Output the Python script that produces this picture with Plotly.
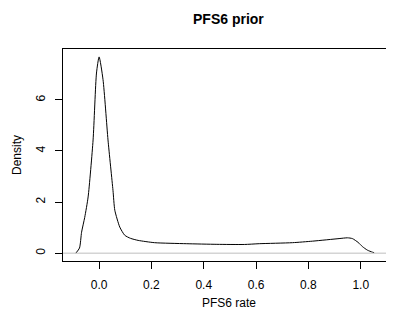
import plotly.graph_objects as go

pfs6_rate = [-0.089, -0.075, -0.067, -0.055, -0.042, -0.023, -0.010, 0.000, 0.015, 0.034,
             0.053, 0.060, 0.079, 0.098, 0.120, 0.149, 0.212, 0.333, 0.450, 0.555,
             0.612, 0.739, 0.816, 0.917, 0.949, 0.968, 0.990, 1.006, 1.025, 1.044, 1.051]
density = [0.00, 0.20, 0.82, 1.40, 2.20, 4.43, 7.05, 7.68, 6.79, 4.43,
           2.46, 1.68, 1.02, 0.70, 0.58, 0.50, 0.41, 0.37, 0.345, 0.34,
           0.37, 0.41, 0.47, 0.57, 0.60, 0.57, 0.42, 0.26, 0.12, 0.04, 0.02]
x_ticks = [0.0, 0.2, 0.4, 0.6, 0.8, 1.0]
x_tick_labels = ["0.0", "0.2", "0.4", "0.6", "0.8", "1.0"]
y_ticks = [0, 2, 4, 6]
y_tick_labels = ["0", "2", "4", "6"]

FONT = "Liberation Sans, Arial, sans-serif"

fig = go.Figure()
fig.add_trace(go.Scatter(x=pfs6_rate, y=density, mode="lines",
                         line=dict(color="black", width=1, shape="spline", smoothing=0.6),
                         hoverinfo="skip", showlegend=False))

fig.add_hline(y=0, line=dict(color="#BEBEBE", width=1))

# page body has an 8px default margin, so the figure is offset by (8, 8)
fig.update_layout(
    width=386, height=312,
    margin=dict(l=55, r=0, t=41, b=59, autoexpand=False),
    paper_bgcolor="white", plot_bgcolor="white",
    font=dict(family=FONT, size=12, color="black"),
    xaxis=dict(range=[-0.138, 1.127], tickvals=x_ticks, ticktext=x_tick_labels,
               ticks="outside", ticklen=7, tickcolor="black", tickwidth=1,
               showline=True, mirror=True, linecolor="black", linewidth=1,
               showgrid=False, zeroline=False, ticklabelstandoff=6, automargin=False),
    yaxis=dict(range=[-0.307, 7.99], tickvals=y_ticks, ticktext=y_tick_labels,
               ticks="outside", ticklen=7, tickcolor="black", tickwidth=1,
               showline=True, mirror=False, linecolor="black", linewidth=1,
               showgrid=False, zeroline=False, tickangle=-90, ticklabelstandoff=5,
               automargin=False),
    annotations=[
        dict(text="<b>PFS6 prior</b>", xref="paper", yref="paper", x=0.5, y=1,
             yshift=30, xanchor="center", yanchor="middle", showarrow=False,
             font=dict(size=14, family=FONT)),
        dict(text="PFS6 rate", xref="paper", yref="paper", x=0.5, y=0,
             yshift=-42, xanchor="center", yanchor="middle", showarrow=False,
             font=dict(size=12, family=FONT)),
        dict(text="Density", xref="paper", yref="paper", x=0, y=0.5,
             xshift=-46, textangle=-90, xanchor="center", yanchor="middle",
             showarrow=False, font=dict(size=12, family=FONT)),
    ],
)

fig.write_html("out.html")
